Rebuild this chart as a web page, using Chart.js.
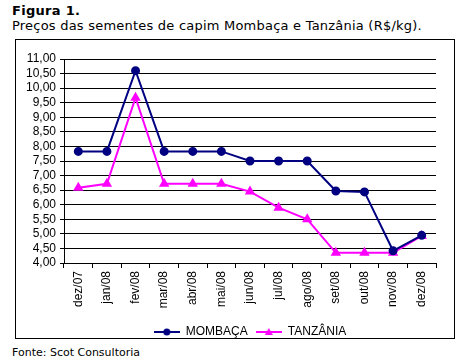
<!DOCTYPE html>
<html>
<head>
<meta charset="utf-8">
<script src="https://cdn.jsdelivr.net/npm/chart.js@4.4.0/dist/chart.umd.min.js"></script>
<style>
    body { margin: 0; background: #fff; width: 461px; height: 361px; position: relative; font-family: "DejaVu Sans", Verdana, sans-serif; }
    #titulo { position: absolute; left: 12px; top: 3px; font-size: 13px; font-weight: bold; letter-spacing: 0.3px; }
    #subtitulo { position: absolute; left: 12px; top: 18px; font-size: 13px; letter-spacing: 0.22px; }
    #caixa { position: absolute; left: 15px; top: 39px; width: 438px; height: 298px; border: 1px solid #000; }
    #fonte { position: absolute; left: 12px; top: 346px; font-size: 11px; }
</style>
</head>
<body>
<div id="titulo">Figura 1.</div>
<div id="subtitulo">Preços das sementes de capim Mombaça e Tanzânia (R$/kg).</div>
<div id="caixa"><canvas id="grafico" width="438" height="298"></canvas></div>
<div id="fonte">Fonte: Scot Consultoria</div>

<script>
    // dados
    var meses = ["dez/07", "jan/08", "fev/08", "mar/08", "abr/08", "mai/08", "jun/08",
        "jul/08", "ago/08", "set/08", "out/08", "nov/08", "dez/08"];
    var mombaca = [7.83, 7.83, 10.6, 7.83, 7.83, 7.83, 7.5, 7.5, 7.5, 6.47, 6.44, 4.42, 4.95];
    var tanzania = [6.58, 6.72, 9.67, 6.72, 6.72, 6.72, 6.45, 5.9, 5.5, 4.35, 4.35, 4.35, 4.93];
    var escalaY = { min: 4, max: 11, passo: 0.5 };

    // ícone da legenda: linha com marcador
    function iconeLegenda(cor, tipo) {
        var c = document.createElement("canvas");
        c.width = 26; c.height = 10;
        var g = c.getContext("2d");
        g.strokeStyle = cor; g.fillStyle = cor; g.lineWidth = 2;
        g.beginPath(); g.moveTo(0, 5); g.lineTo(26, 5); g.stroke();
        g.beginPath();
        if (tipo == "circle") {
            g.arc(13, 5, 3.5, 0, Math.PI * 2);
        } else {
            g.moveTo(13, 1); g.lineTo(17, 8); g.lineTo(9, 8); g.closePath();
        }
        g.fill();
        return c;
    }

    var fonteEixo = { family: "Liberation Sans, Arial", size: 12 };

    var ctx = document.getElementById("grafico").getContext("2d");
    new Chart(ctx, {
        type: "line",
        data: {
            labels: meses,
            datasets: [{
                label: "MOMBAÇA",
                data: mombaca,
                borderColor: "#000080",
                backgroundColor: "#000080",
                borderWidth: 2,
                pointStyle: "circle",
                pointRadius: 3.5,
                tension: 0
            }, {
                label: "TANZÂNIA",
                data: tanzania,
                borderColor: "#FF00FF",
                backgroundColor: "#FF00FF",
                borderWidth: 2,
                pointStyle: "triangle",
                pointRadius: 4,
                tension: 0
            }]
        },
        options: {
            animation: false,
            responsive: false,
            layout: { padding: { left: 6, right: 18, top: 19, bottom: -10 } },
            plugins: {
                tooltip: { enabled: false },
                legend: {
                    position: "bottom",
                    fullSize: false,
                    labels: {
                        color: "#000",
                        font: { family: "Liberation Sans, Arial", size: 12 },
                        padding: 8,
                        usePointStyle: true,
                        pointStyleWidth: 26,
                        generateLabels: function (chart) {
                            return chart.data.datasets.map(function (ds, i) {
                                return {
                                    text: ds.label,
                                    pointStyle: iconeLegenda(ds.borderColor, ds.pointStyle),
                                    datasetIndex: i,
                                    lineWidth: 0,
                                    fontColor: "#000"
                                };
                            });
                        }
                    }
                }
            },
            scales: {
                x: {
                    offset: true,
                    grid: { offset: true, drawOnChartArea: false, color: "#000", tickLength: 5 },
                    border: { color: "#000", width: 1 },
                    ticks: {
                        color: "#000",
                        font: fonteEixo,
                        minRotation: 90, maxRotation: 90,
                        autoSkip: false,
                        padding: 3
                    },
                    afterFit: function (s) { s.height = 55; }
                },
                y: {
                    min: escalaY.min,
                    max: escalaY.max,
                    grid: { color: "#000", lineWidth: 1, tickLength: 4 },
                    border: { color: "#000", width: 1 },
                    ticks: {
                        stepSize: escalaY.passo,
                        autoSkip: false,
                        color: "#000",
                        font: fonteEixo,
                        padding: 4,
                        callback: function (v) { return v.toFixed(2).replace(".", ","); }
                    },
                    afterFit: function (s) { s.width = 42; }
                }
            }
        }
    });
</script>
</body>
</html>
